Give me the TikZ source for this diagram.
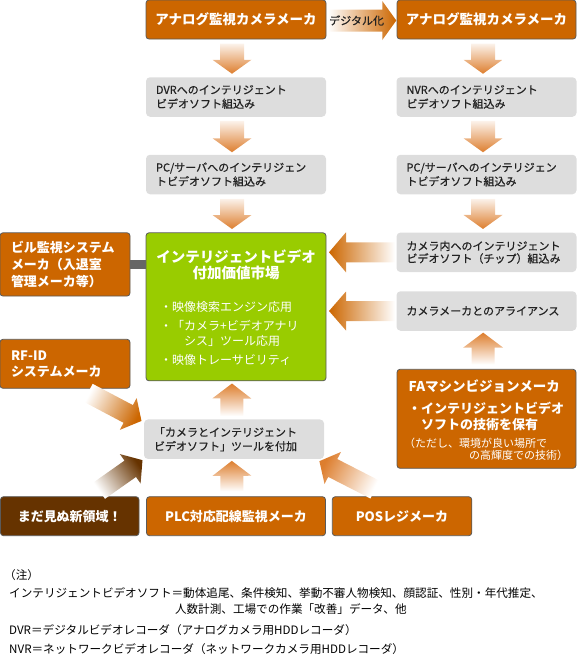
\documentclass[tikz,border=0pt]{standalone}
\usepackage{fontspec}
\setmainfont{Noto Sans CJK JP}
\newfontfamily\medjp[FakeBold=0.7]{Noto Sans CJK JP}
\usepackage{tikz}
\usetikzlibrary{positioning, calc}

\definecolor{boxor}{RGB}{204,102,0}
\definecolor{boxbrn}{RGB}{102,51,0}
\definecolor{boxgrn}{RGB}{153,204,0}
\definecolor{boxgry}{RGB}{221,221,221}
\definecolor{edgegry}{RGB}{90,90,90}
\definecolor{txtgry}{RGB}{34,34,34}
\definecolor{bargry}{RGB}{102,102,102}
\definecolor{arror}{RGB}{221,126,46}
\definecolor{arrdk}{RGB}{204,102,0}
\definecolor{arrbrn}{RGB}{102,51,0}

% fat shaded arrow: style, tail, tip, shaft half width, head half width, head length
\newcommand\fatarrow[6]{%
  \coordinate (fah) at ($(#3)!#6!(#2)$);
  \path[#1] ($(#2)!#4!90:(#3)$) -- ($(fah)!#4!90:(#3)$) -- ($(fah)!#5!90:(#3)$) -- (#3)
    -- ($(fah)!#5!-90:(#3)$) -- ($(fah)!#4!-90:(#3)$) -- ($(#2)!#4!-90:(#3)$) -- cycle;
}

\begin{document}
\begin{tikzpicture}[
  x=1pt, y=-1pt,
  ora/.style={draw=edgegry, line width=0.8pt, fill=boxor, rounded corners=3pt, text=white, inner sep=0pt, align=center, minimum height=39pt, font=\fontsize{13.5}{17}\bfseries},
  brn/.style={ora, fill=boxbrn},
  grn/.style={draw=edgegry, line width=0.8pt, fill=boxgrn, rounded corners=3pt},
  gry/.style={fill=boxgry, rounded corners=4pt, text=txtgry, align=left, text width=160pt, inner xsep=10pt, inner ysep=0pt, minimum height=39.5pt, font=\fontsize{11}{14}\medjp},
  wtxt/.style={text=white, inner sep=0pt, align=left},
  lbl/.style={text=txtgry, inner sep=0pt, font=\fontsize{11}{13}\medjp},
  note/.style={anchor=west, inner sep=0pt, font=\fontsize{11.6}{14}\selectfont},
  dn/.style={top color=arror!10, bottom color=arror},
  up/.style={top color=arror, bottom color=white},
  lt/.style={left color=arrdk, right color=white}
]
  \useasboundingbox (0,0) rectangle (577,670);

  \node[ora, minimum width=180pt] (anaL) at (236,19.5) {アナログ監視カメラメーカ};
  \node[ora, minimum width=179pt] (anaR) at (486.5,19.5) {アナログ監視カメラメーカ};

  \node[gry] (dvr) at (236,97) {DVRへのインテリジェント\\ビデオソフト組込み};
  \node[gry] (pcL) at (236,174.5) {PC/サーバへのインテリジェン\\トビデオソフト組込み};
  \node[grn, minimum width=180pt, minimum height=148pt] (mkt) at (236,306.8) {};
  \node[wtxt, align=center, font=\fontsize{14.5}{16.5}\bfseries] (mktT) at (236,264.9) {インテリジェントビデオ\\付加価値市場};
  \node[wtxt, anchor=west, font=\fontsize{12}{15}\selectfont] (mktB) at (160,333.6) {・映像検索エンジン応用\\[3.8pt]・「カメラ+ビデオアナリ\\\hspace*{2em}シス」ツール応用\\[4pt]・映像トレーサビリティ};
  \node[gry] (tool) at (234,439.2) {「カメラとインテリジェント\\ビデオソフト」ツールを付加};

  \node[gry] (nvr) at (486.5,97) {NVRへのインテリジェント\\ビデオソフト組込み};
  \node[gry] (pcR) at (486.5,174.5) {PC/サーバへのインテリジェン\\トビデオソフト組込み};
  \node[gry, font=\fontsize{11}{12.5}\medjp] (chip) at (486.5,252.3) {カメラ内へのインテリジェント\\ビデオソフト（チップ）組込み};
  \node[gry] (ally) at (486.5,311) {カメラメーカとのアライアンス};
  \node[ora, minimum width=179pt, minimum height=99pt] (fa) at (486.5,418.8) {};
  \node[wtxt, anchor=west, font=\fontsize{13.5}{16}\bfseries] (faT) at (408.5,386) {FAマシンビジョンメーカ};
  \node[wtxt, anchor=west, font=\fontsize{13}{15.7}\bfseries] (faB) at (408,416.2) {・インテリジェントビデオ\\\hspace*{1em}ソフトの技術を保有};
  \node[wtxt, anchor=west, font=\fontsize{11}{11.7}\selectfont] (faN) at (404,449.2) {（ただし、環境が良い場所で\\\hspace*{65pt}の高輝度での技術）};

  \node[ora, align=left, text width=108pt, inner xsep=11pt, minimum height=63.3pt, font=\fontsize{13}{17}\bfseries] (bill) at (65,264.4) {ビル監視システム\\メーカ（入退室\\管理メーカ等）};
  \node[ora, align=left, text width=108pt, inner xsep=11pt, minimum height=49pt, font=\fontsize{13}{15.7}\bfseries] (rfid) at (65,363.8) {RF-ID\\システムメーカ};
  \draw[bargry, line width=9pt] (bill.east) -- (bill.east -| mkt.west);

  \node[brn, minimum width=138.5pt, font=\fontsize{13}{15}\bfseries] (newf) at (69.75,516.2) {まだ見ぬ新領域！};
  \node[ora, minimum width=179pt, font=\fontsize{13}{15}\bfseries] (plc) at (236,516.2) {PLC対応配線監視メーカ};
  \node[ora, minimum width=139.5pt, font=\fontsize{13}{15}\bfseries] (pos) at (402,516.2) {POSレジメーカ};

  \coordinate (d0) at ([xshift=1.5pt, yshift=-1pt]anaL.east);
  \coordinate (d1) at ([xshift=-0.3pt, yshift=-1pt]anaR.west);
  \fatarrow{left color=white, right color=arrdk}{d0}{d1}{11pt}{19.5pt}{14pt}
  \node[lbl] (dig) at ($(d0)!0.42!(d1)$) {デジタル化};

  \coordinate (a1s) at ([xshift=-4pt, yshift=-4.3pt]anaL.south);
  \coordinate (a1e) at ([xshift=-4pt, yshift=3.3pt]dvr.north);
  \fatarrow{dn}{a1s}{a1e}{12pt}{19.5pt}{14pt}
  \coordinate (a2s) at ([xshift=-3.5pt, yshift=-4.3pt]anaR.south);
  \coordinate (a2e) at ([xshift=-3.5pt, yshift=3.3pt]nvr.north);
  \fatarrow{dn}{a2s}{a2e}{12pt}{19.5pt}{14pt}
  \coordinate (a3s) at ([xshift=-4pt, yshift=-4pt]dvr.south);
  \coordinate (a3e) at ([xshift=-4pt, yshift=2.3pt]pcL.north);
  \fatarrow{dn}{a3s}{a3e}{12pt}{19.5pt}{14pt}
  \coordinate (a4s) at ([xshift=-3.5pt, yshift=-4pt]nvr.south);
  \coordinate (a4e) at ([xshift=-3.5pt, yshift=2.3pt]pcR.north);
  \fatarrow{dn}{a4s}{a4e}{12pt}{19.5pt}{14pt}
  \coordinate (a5s) at ([xshift=-4pt, yshift=-4.3pt]pcL.south);
  \coordinate (a5e) at ([xshift=-4pt, yshift=3.4pt]mkt.north);
  \fatarrow{dn}{a5s}{a5e}{12pt}{19.5pt}{14pt}
  \coordinate (a6s) at ([xshift=-3.5pt, yshift=-4.3pt]pcR.south);
  \coordinate (a6e) at ([xshift=-3.5pt, yshift=3.4pt]chip.north);
  \fatarrow{dn}{a6s}{a6e}{12pt}{19.5pt}{14pt}

  \coordinate (a7s) at ([xshift=-1.4pt]chip.west);
  \coordinate (a7e) at ($(chip.west -| mkt.east)+(2.6,0)$);
  \fatarrow{lt}{a7s}{a7e}{10pt}{20pt}{17pt}
  \coordinate (a8s) at ([xshift=-1.4pt]ally.west);
  \coordinate (a8e) at ($(ally.west -| mkt.east)+(2.6,0)$);
  \fatarrow{lt}{a8s}{a8e}{10pt}{19.5pt}{17pt}

  \coordinate (a9s) at ([xshift=-3.3pt, yshift=4.3pt]fa.north);
  \coordinate (a9e) at ([xshift=-3.3pt, yshift=-1.7pt]ally.south);
  \fatarrow{up}{a9s}{a9e}{11.5pt}{20pt}{15pt}
  \coordinate (a10s) at ([xshift=-2.2pt, yshift=3.3pt]tool.north);
  \coordinate (a10e) at ([xshift=-4pt, yshift=-2.3pt]mkt.south);
  \fatarrow{up}{a10s}{a10e}{11.5pt}{19.5pt}{15pt}
  \coordinate (a11s) at ([xshift=-4pt, yshift=5pt]plc.north);
  \coordinate (a11e) at ([xshift=-2.2pt, yshift=-1.7pt]tool.south);
  \fatarrow{up}{a11s}{a11e}{11.5pt}{19.5pt}{15pt}

  \coordinate (a12s) at ([xshift=23pt, yshift=-4pt]rfid.south);
  \coordinate (a12e) at ([xshift=-2.3pt, yshift=-1.7pt]tool.north west);
  \fatarrow{top color=arrdk, bottom color=white, shading angle=-118}{a12s}{a12e}{10pt}{18pt}{15pt}
  \coordinate (a13s) at ([xshift=29.5pt, yshift=5.7pt]newf.north);
  \coordinate (a13e) at ([xshift=-1.3pt, yshift=-1pt]tool.south west);
  \fatarrow{top color=arrbrn, bottom color=white, shading angle=-55}{a13s}{a13e}{10pt}{18pt}{15pt}
  \coordinate (a14s) at ([xshift=-27pt, yshift=6.7pt]pos.north);
  \coordinate (a14e) at ([xshift=-4.8pt, yshift=-2pt]tool.south east);
  \fatarrow{top color=arror, bottom color=white, shading angle=63}{a14s}{a14e}{10pt}{18pt}{15pt}

  \node[note] (n0) at (4,575) {（注）};
  \node[note] (n1) at (9,593.3) {インテリジェントビデオソフト＝動体追尾、条件検知、挙動不審人物検知、顔認証、性別・年代推定、};
  \node[note] (n2) at (174.8,609.3) {人数計測、工場での作業「改善」データ、他};
  \node[note] (n3) at (9,630) {DVR＝デジタルビデオレコーダ（アナログカメラ用HDDレコーダ）};
  \node[note] (n4) at (9,649) {NVR＝ネットワークビデオレコーダ（ネットワークカメラ用HDDレコーダ）};
\end{tikzpicture}
\end{document}
